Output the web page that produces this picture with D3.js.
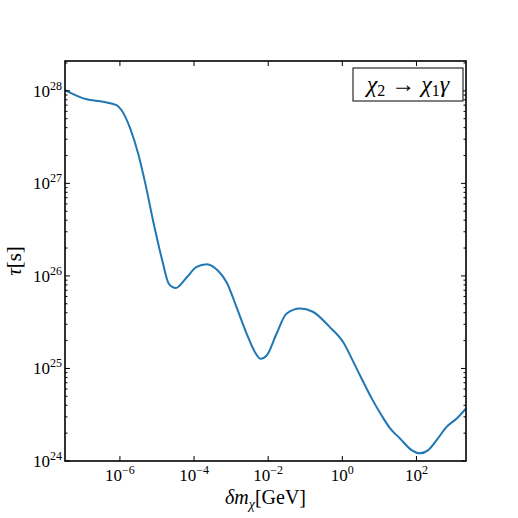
<!DOCTYPE html>
<meta charset="utf-8">
<style>
  body { margin: 0; background: #fff; }
  text { font-family: "Liberation Serif", "DejaVu Serif", serif; fill: #000; }
</style>
<body>
<div id="chart"></div>
<script src="https://d3js.org/d3.v7.min.js"></script>
<script>

// mass splitting [GeV] and lifetime [s]
var massSplit = [3.3e-8, 1.26e-7, 3.5e-7, 8.1e-7, 1.1e-6, 1.9e-6, 3.1e-6, 5.0e-6, 7.9e-6,
  1.4e-5, 2.1e-5, 3.2e-5, 6.3e-5, 1.17e-4, 2.2e-4, 4.5e-4, 7.6e-4, 1.4e-3, 2.6e-3,
  4.4e-3, 6.3e-3, 9.1e-3, 1.7e-2, 3.1e-2, 7.2e-2, 0.16, 0.44, 1.06, 2.0, 3.3, 6.2,
  11.5, 19, 36, 74, 124, 208, 350, 650, 1220, 2170];
var lifetime = [1.02e28, 8.1e27, 7.6e27, 7.0e27, 6.2e27, 3.9e27, 2.1e27, 9.4e26, 3.9e26,
  1.45e26, 8.2e25, 7.4e25, 9.6e25, 1.25e26, 1.34e26, 1.13e26, 8.5e25, 4.6e25, 2.4e25,
  1.5e25, 1.27e25, 1.38e25, 2.4e25, 3.9e25, 4.45e25, 4.1e25, 2.85e25, 1.92e25, 1.17e25, 7.8e24, 4.75e24,
  3.1e24, 2.28e24, 1.75e24, 1.31e24, 1.21e24, 1.31e24, 1.68e24, 2.34e24, 2.88e24, 3.7e24];

var xTickExp = [-6, -4, -2, 0, 2];
var yTickExp = [24, 25, 26, 27, 28];

var width = 518, height = 518;
var margin = {left: 65, right: 52, top: 61, bottom: 57};

var x = d3.scaleLog()
    .domain([3.3e-8, 2.17e3])
    .range([margin.left, width - margin.right]);

var y = d3.scaleLog()
    .domain([1e24, 2.1e28])
    .range([height - margin.bottom, margin.top]);

var svg = d3.select("#chart").append("svg")
    .attr("width", width)
    .attr("height", height);

var data = massSplit.map(function(m, i) { return [m, lifetime[i]]; });

svg.append("defs").append("clipPath").attr("id", "clip")
  .append("rect")
    .attr("x", margin.left).attr("y", margin.top)
    .attr("width", width - margin.left - margin.right)
    .attr("height", height - margin.top - margin.bottom);

var line = d3.line()
    .x(function(d) { return x(d[0]); })
    .y(function(d) { return y(d[1]); })
    .curve(d3.curveMonotoneX);

svg.append("path")
    .datum(data)
    .attr("clip-path", "url(#clip)")
    .attr("fill", "none")
    .attr("stroke", "#1f77b4")
    .attr("stroke-width", 2)
    .attr("d", line);

// ticks, inward on all four sides
var x0 = margin.left, x1 = width - margin.right;
var y0 = height - margin.bottom, y1 = margin.top;
var ticks = svg.append("g").attr("stroke", "#000").attr("stroke-width", 1);

xTickExp.forEach(function(e) {
  var px = x(Math.pow(10, e));
  ticks.append("line").attr("x1", px).attr("x2", px).attr("y1", y0).attr("y2", y0 - 5);
  ticks.append("line").attr("x1", px).attr("x2", px).attr("y1", y1).attr("y2", y1 + 5);
});

var yMinor = [];
for (var e = 24; e <= 28; e++) {
  for (var k = 1; k < 10; k++) {
    var v = k * Math.pow(10, e);
    if (v <= y.domain()[1]) yMinor.push({v: v, major: k === 1});
  }
}
yMinor.forEach(function(t) {
  var py = y(t.v), len = t.major ? 5 : 2.5;
  ticks.append("line").attr("x1", x0).attr("x2", x0 + len).attr("y1", py).attr("y2", py);
  ticks.append("line").attr("x1", x1).attr("x2", x1 - len).attr("y1", py).attr("y2", py);
});

// frame
svg.append("rect")
    .attr("x", x0).attr("y", y1)
    .attr("width", x1 - x0).attr("height", y0 - y1)
    .attr("fill", "none")
    .attr("stroke", "#000")
    .attr("stroke-width", 1.6);

// tick labels
xTickExp.forEach(function(e) {
  var t = svg.append("text")
      .attr("x", x(Math.pow(10, e)))
      .attr("y", y0 + 20)
      .attr("text-anchor", "middle")
      .style("font-size", "17px");
  t.append("tspan").text("10");
  t.append("tspan").attr("dy", -7).style("font-size", "12px")
    .text(e < 0 ? "\u2212" + (-e) : e);
});

yTickExp.forEach(function(e) {
  var t = svg.append("text")
      .attr("x", x0 - 3)
      .attr("y", y(Math.pow(10, e)) + 6)
      .attr("text-anchor", "end")
      .style("font-size", "17px");
  t.append("tspan").text("10");
  t.append("tspan").attr("dy", -7).style("font-size", "12px").text(e);
});

// axis labels
var xl = svg.append("text")
    .attr("x", (x0 + x1) / 2)
    .attr("y", 504)
    .attr("text-anchor", "middle")
    .style("font-size", "20px");
xl.append("tspan").style("font-style", "italic").text("δm");
xl.append("tspan").attr("dy", 5).style("font-size", "14px").style("font-style", "italic").text("χ");
xl.append("tspan").attr("dy", -5).text("[GeV]");

var yl = svg.append("text")
    .attr("transform", "translate(21," + ((y0 + y1) / 2) + ") rotate(-90)")
    .attr("text-anchor", "middle")
    .style("font-size", "21px");
yl.append("tspan").style("font-style", "italic").text("τ");
yl.append("tspan").text("[s]");

// legend box
svg.append("rect")
    .attr("x", 353).attr("y", 68)
    .attr("width", 110).attr("height", 33)
    .attr("fill", "#fff")
    .attr("stroke", "#000")
    .attr("stroke-width", 1);

var lg = svg.append("text")
    .attr("x", 408).attr("y", 92)
    .attr("text-anchor", "middle")
    .style("font-size", "24px");
lg.append("tspan").style("font-style", "italic").text("χ");
lg.append("tspan").attr("dy", 4).style("font-size", "16px").text("2");
lg.append("tspan").attr("dy", -4).text(" \u2192 ");
lg.append("tspan").style("font-style", "italic").text("χ");
lg.append("tspan").attr("dy", 4).style("font-size", "16px").text("1");
lg.append("tspan").attr("dy", -4).style("font-style", "italic").text("γ");

</script>
</body>
